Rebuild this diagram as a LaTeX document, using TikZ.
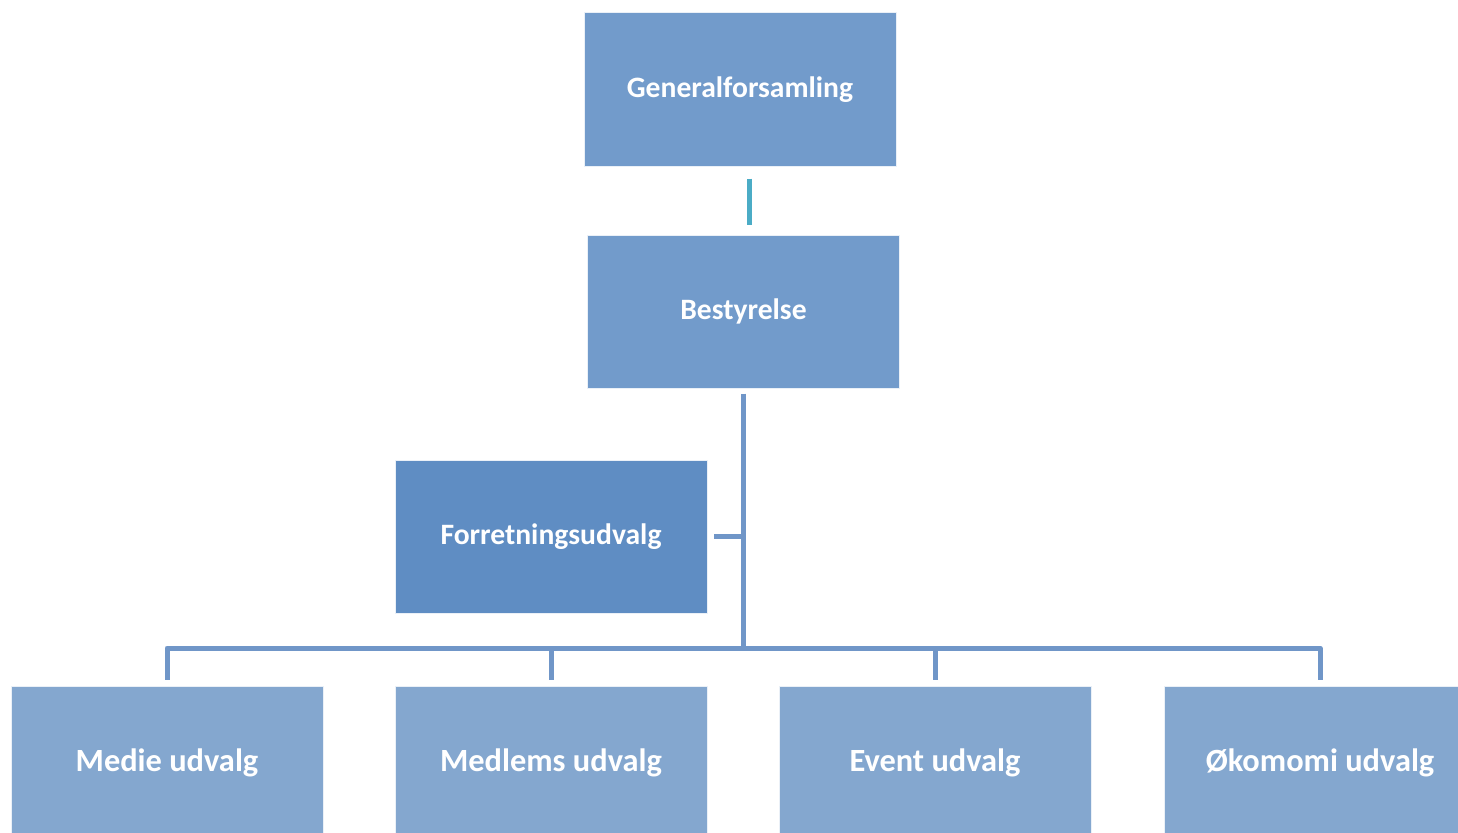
\documentclass[tikz,border=0pt]{standalone}
\usepackage{fontspec}
\setmainfont{Carlito}
\definecolor{topblue}{HTML}{729BCB}
\definecolor{midblue}{HTML}{5F8DC3}
\definecolor{lowblue}{HTML}{84A7CF}
\definecolor{lineblue}{HTML}{7096C8}
\definecolor{teal}{HTML}{4BACC6}
\begin{document}
\begin{tikzpicture}[x=1pt,y=-1pt]
  \useasboundingbox (0,0) rectangle (1458,832);
  \clip (0,0) rectangle (1458,832);
  \tikzstyle{Box}=[draw=white!85!topblue,line width=1pt,inner sep=0pt,
    minimum width=312pt,minimum height=153pt,text=white,
    font=\bfseries\fontsize{29.6}{34}\selectfont]
  \tikzstyle{LowBox}=[Box,fill=lowblue,font=\bfseries\fontsize{32.4}{38}\selectfont]
  \tikzstyle{Line}=[lineblue,line width=5pt,line join=round]
  \tikzstyle{TealLine}=[teal,line width=5pt]
  \node[Box,fill=topblue] (gen) at (740,89.5) {Generalforsamling};
  \node[Box,fill=topblue] (best) at (743.5,311.5) {Bestyrelse};
  \node[Box,fill=midblue] (forr) at (551,536.5) {Forretningsudvalg};
  \node[LowBox] (medie) at (167,762.5) {Medie udvalg};
  \node[LowBox] (medl) at (551,762.5) {Medlems udvalg};
  \node[LowBox] (event) at (935,762.5) {Event udvalg};
  \node[LowBox] (oko) at (1320,762.5) {Økomomi udvalg};
  \coordinate (t) at (749,0);
  \coordinate (bar) at (743.5,648);
  \draw[TealLine,shorten <=12pt,shorten >=10pt] (gen.south -| t) -- (best.north -| t);
  \draw[Line,shorten <=5pt] (best.south) -- (bar);
  \draw[Line,shorten >=6pt] (best.south |- forr.east) -- (forr.east);
  \draw[Line,shorten >=6pt] (bar) -| (medie.north);
  \draw[Line,shorten >=6pt] (bar) -| (medl.north);
  \draw[Line,shorten >=6pt] (bar) -| (event.north);
  \draw[Line,shorten >=6pt] (bar) -| (oko.north);
\end{tikzpicture}
\end{document}
